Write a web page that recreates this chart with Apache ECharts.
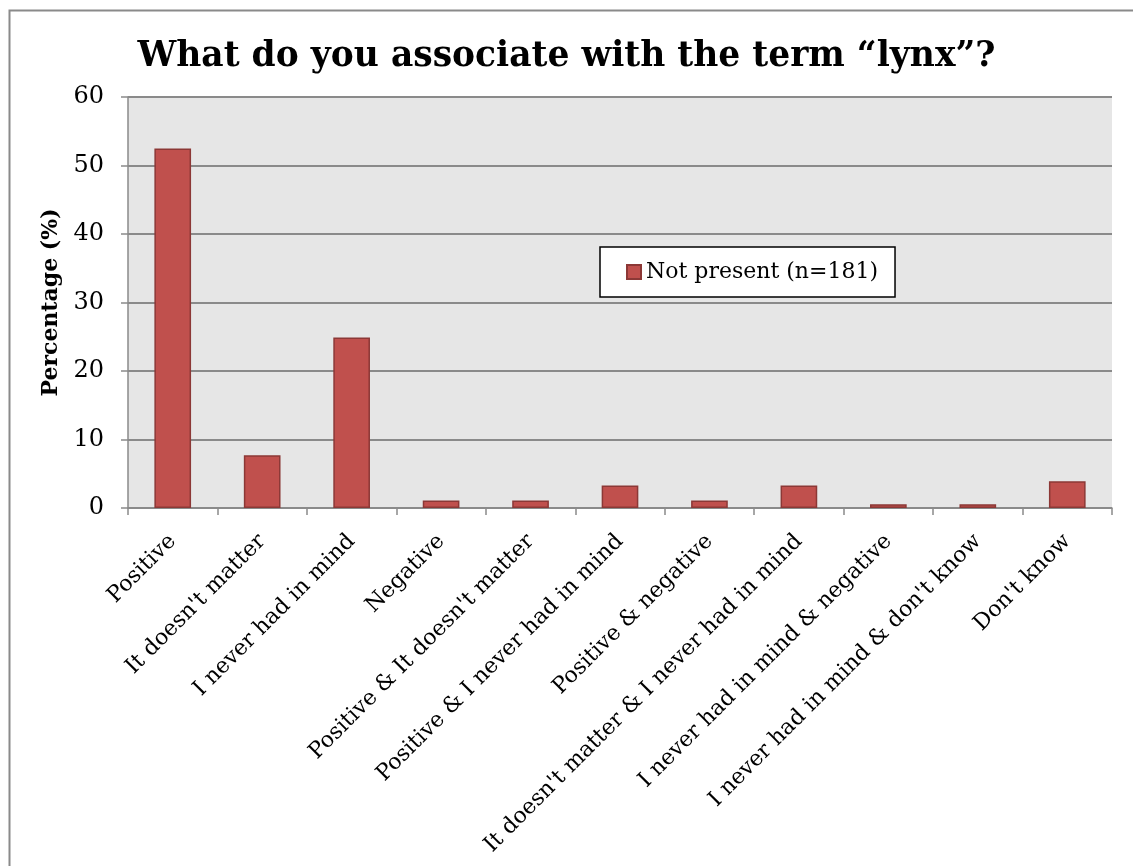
<!DOCTYPE html>
<html>
<head>
<meta charset="utf-8">
<script src="https://cdn.jsdelivr.net/npm/echarts@6/dist/echarts.min.js"></script>
<style>
html,body{margin:0;padding:0;background:#fff;}
#chart{width:1133px;height:866px;}
</style>
</head>
<body>
<div id="chart"></div>
<script>
var categories = ["Positive", "It doesn't matter", "I never had in mind", "Negative", "Positive & It doesn't matter", "Positive & I never had in mind", "Positive & negative", "It doesn't matter & I never had in mind", "I never had in mind & negative", "I never had in mind & don't know", "Don't know"];
var notPresent = [52.5, 7.7, 24.9, 1.1, 1.1, 3.3, 1.1, 3.3, 0.55, 0.55, 3.9];
var seriesName = "Not present (n=181)";
var titleText = "What do you associate with the term \u201clynx\u201d?";
var yAxisName = "Percentage (%)";

var serif = "'DejaVu Serif', 'Liberation Serif', serif";
var chart = echarts.init(document.getElementById('chart'));
chart.setOption({
  backgroundColor: '#ffffff',
  animation: false,
  graphic: [{
    type: 'rect', left: 7, top: 8, z: -10,
    shape: {width: 1140, height: 900},
    style: {fill: 'none', stroke: '#8a8a8a', lineWidth: 2}
  }],
  title: {
    text: titleText, left: 'center', top: 35,
    textStyle: {fontFamily: serif, fontWeight: 'bold', fontSize: 34.5, color: '#000'}
  },
  legend: {
    data: [seriesName], left: 600, top: 247,
    backgroundColor: '#ffffff', borderColor: '#000', borderWidth: 1.5,
    padding: [14, 17, 14, 26], itemWidth: 14, itemHeight: 14, itemGap: 5,
    icon: 'rect',
    textStyle: {fontFamily: serif, fontSize: 22, color: '#000'}
  },
  grid: {left: 128, right: 21, top: 97, bottom: 358, backgroundColor: '#e6e6e6', show: true, borderWidth: 0},
  xAxis: {
    type: 'category', data: categories,
    axisLine: {lineStyle: {color: '#8a8a8a', width: 1.5}},
    axisTick: {show: true, length: 7, lineStyle: {color: '#8a8a8a', width: 1.5}},
    axisLabel: {rotate: 45, interval: 0, margin: 30, fontFamily: serif, fontSize: 22, color: '#000'}
  },
  yAxis: {
    type: 'value', min: 0, max: 60, interval: 10,
    name: yAxisName, nameLocation: 'middle', nameGap: 62, nameRotate: 90,
    nameTextStyle: {fontFamily: serif, fontWeight: 'bold', fontSize: 22, color: '#000'},
    axisLine: {show: true, lineStyle: {color: '#8a8a8a', width: 1.5}},
    axisTick: {show: true, length: 7, lineStyle: {color: '#8a8a8a', width: 1.5}},
    axisLabel: {margin: 24, fontFamily: serif, fontSize: 24, color: '#000'},
    splitLine: {show: true, lineStyle: {color: '#8a8a8a', width: 2}}
  },
  series: [{
    name: seriesName, type: 'bar', data: notPresent, barCategoryGap: '59%',
    itemStyle: {color: '#c0504d', borderColor: '#8c3836', borderWidth: 1.5}
  }]
});
</script>
</body>
</html>
